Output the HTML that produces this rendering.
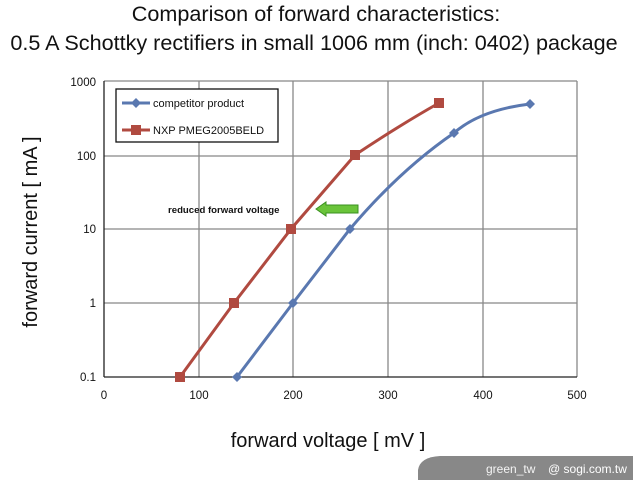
<!DOCTYPE html>
<html><head><style>body{margin:0;background:#fff;width:633px;height:480px;overflow:hidden;font-family:"Liberation Sans",sans-serif}</style></head><body>
<svg width="633" height="480" xmlns="http://www.w3.org/2000/svg" font-family="Liberation Sans, sans-serif">
<text x="316" y="21" font-size="21.6" text-anchor="middle" fill="#111">Comparison of forward characteristics:</text>
<text x="314" y="50" font-size="21.6" text-anchor="middle" fill="#111">0.5 A Schottky rectifiers in small 1006 mm (inch: 0402) package</text>
<g stroke="#888" stroke-width="1.3" fill="none">
<line x1="104" y1="156" x2="577" y2="156"/><line x1="104" y1="229" x2="577" y2="229"/><line x1="104" y1="303" x2="577" y2="303"/>
<line x1="199" y1="81" x2="199" y2="377"/><line x1="293" y1="81" x2="293" y2="377"/><line x1="388" y1="81" x2="388" y2="377"/><line x1="483" y1="81" x2="483" y2="377"/>
<line x1="577" y1="81" x2="577" y2="377"/><line x1="104" y1="81" x2="577" y2="81"/>
</g>
<g stroke="#222" stroke-width="1.3"><line x1="104" y1="81" x2="104" y2="377"/><line x1="104" y1="377" x2="577" y2="377"/></g>
<g font-size="11.5" fill="#111" text-anchor="end">
<text x="96" y="86">1000</text><text x="96" y="160">100</text><text x="96" y="233">10</text><text x="96" y="307">1</text><text x="96" y="381">0.1</text></g>
<g font-size="11.5" fill="#111" text-anchor="middle">
<text x="104" y="399">0</text><text x="199" y="399">100</text><text x="293" y="399">200</text><text x="388" y="399">300</text><text x="483" y="399">400</text><text x="577" y="399">500</text></g>
<text x="328" y="447" font-size="20" text-anchor="middle" fill="#111">forward voltage [ mV ]</text>
<text transform="translate(37,232) rotate(-90)" font-size="20" text-anchor="middle" fill="#111">forward current [ mA ]</text>
<path d="M237,377 L293,303 L350,229 Q400,170 454,133 Q480,110 530,104" stroke="#5a78b0" stroke-width="3" fill="none"/>
<path d="M180,377 L234,303 L291,229 L355,155 Q400,125 439,103" stroke="#b04a40" stroke-width="3" fill="none"/>
<g fill="#5a78b0"><path d="M237,372l5,5l-5,5l-5,-5z"/><path d="M293,298l5,5l-5,5l-5,-5z"/><path d="M350,224l5,5l-5,5l-5,-5z"/><path d="M454,128l5,5l-5,5l-5,-5z"/><path d="M530,99l5,5l-5,5l-5,-5z"/></g>
<g fill="#b04a40"><rect x="175" y="372" width="10" height="10"/><rect x="229" y="298" width="10" height="10"/><rect x="286" y="224" width="10" height="10"/><rect x="350" y="150" width="10" height="10"/><rect x="434" y="98" width="10" height="10"/></g>
<rect x="116" y="89" width="162" height="53" fill="#fff" stroke="#111" stroke-width="1.3"/>
<line x1="122" y1="103" x2="150" y2="103" stroke="#5a78b0" stroke-width="3"/><path d="M136,98l5,5l-5,5l-5,-5z" fill="#5a78b0"/>
<line x1="122" y1="130" x2="150" y2="130" stroke="#b04a40" stroke-width="3"/><rect x="131" y="125" width="10" height="10" fill="#b04a40"/>
<text x="153" y="107" font-size="11" fill="#111">competitor product</text>
<text x="153" y="134" font-size="11" fill="#111">NXP PMEG2005BELD</text>
<text x="168" y="213" font-size="9.6" font-weight="bold" fill="#111">reduced forward voltage</text>
<path d="M316,209 L326,202 L326,205 L358,205 L358,213 L326,213 L326,216 Z" fill="#6ac43a" stroke="#3a9020" stroke-width="1"/>
<path d="M418,480 L418,470 Q420,457 440,456 L633,456 L633,480 Z" fill="#888"/>
<text x="486" y="473" font-size="12" fill="#f4f4f4">green_tw</text>
<text x="548" y="473" font-size="12" fill="#fff">@ sogi.com.tw</text>
</svg>
</body></html>
